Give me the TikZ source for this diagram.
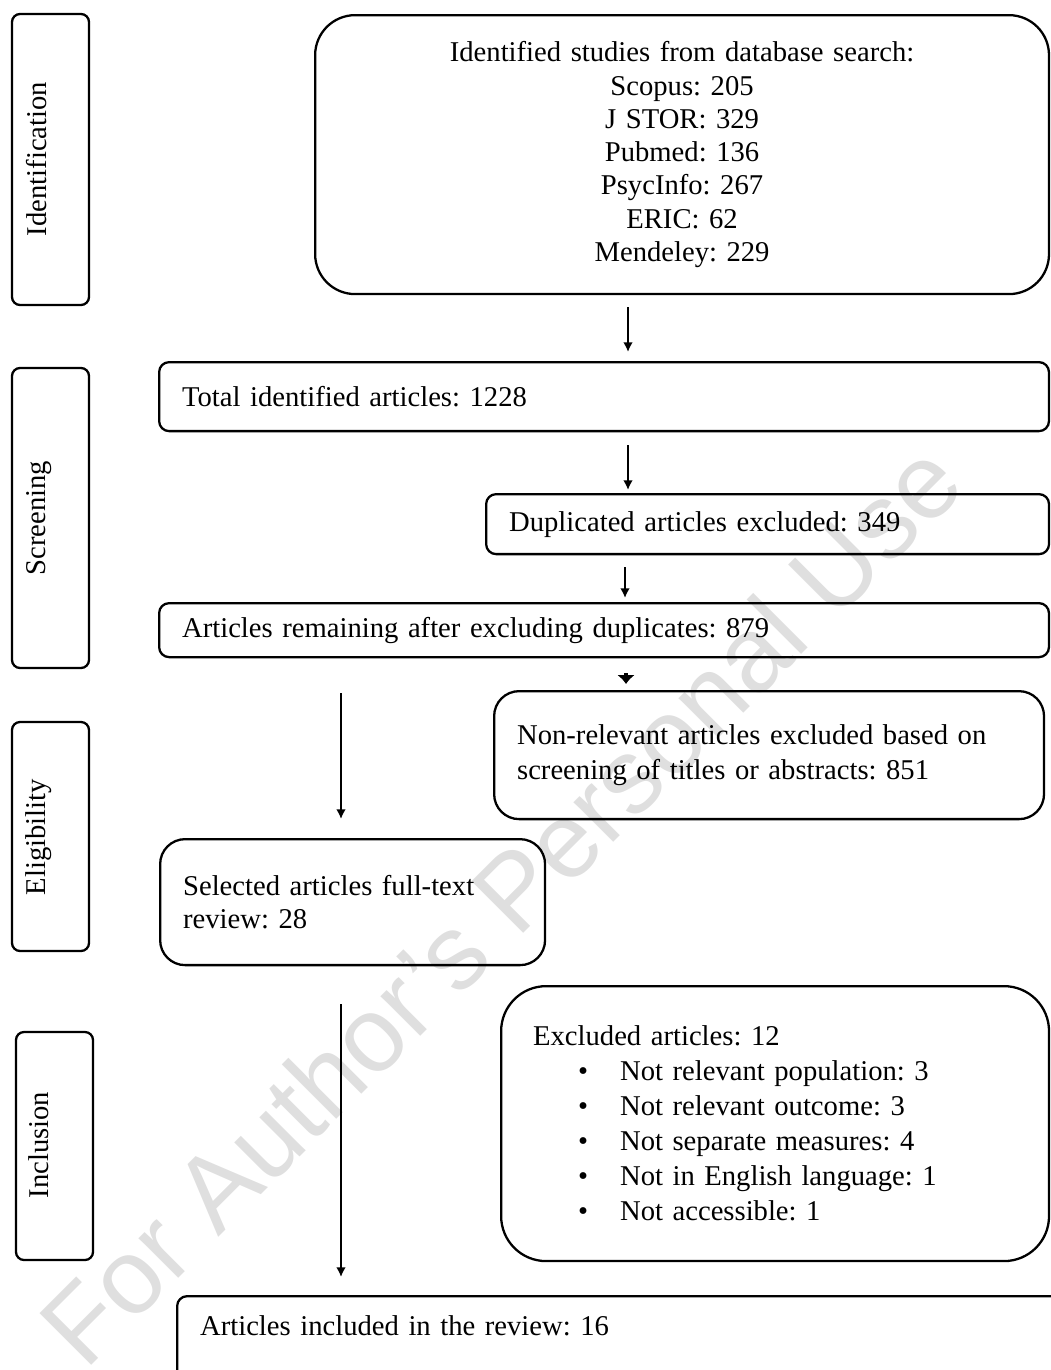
\documentclass[tikz,border=0pt]{standalone}
\usepackage{fontspec}
\setmainfont{Liberation Serif}
\setsansfont{Liberation Sans}
\frenchspacing
\usetikzlibrary{arrows.meta,fit}
\tikzstyle{box} = [draw, line width=1.3pt, rounded corners=0.2cm, anchor=north west,
    align=left, inner xsep=0.46cm, inner ysep=0pt, font=\fontsize{16.3}{18.9}\selectfont]
\tikzstyle{stage} = [draw, line width=1.3pt, rounded corners=0.16cm, inner sep=0pt]
\tikzstyle{stagetxt} = [rotate=90, anchor=base, inner sep=0pt, font=\fontsize{16.3}{18.9}\selectfont]
\tikzstyle{arr} = [line width=1.4pt, -{Latex[length=5.5pt,width=5.5pt]}]
\tikzstyle{watermark} = [rotate=45, text=gray!25, font=\fontsize{60.5}{60.5}\sffamily]
\newcommand{\bitem}[1]{\hspace*{0.9cm}\makebox[0.84cm][l]{\textbullet}#1}

\begin{document}
\begin{tikzpicture}[x=0.02cm, y=-0.02cm]
    \useasboundingbox (0,0) rectangle (1051,1370);
    \node[watermark] (wmark) at (500,903) {For Author's Personal Use};% watermark
    % stage labels
    \node[stage, fit={(12,14) (89,305)}] (identbox) {};
    \node[stagetxt] (identtxt) at (47,159) {Identification};
    \node[stage, fit={(12,368) (89,668)}] (screenbox) {};
    \node[stagetxt] (screentxt) at (45,518) {Screening};
    \node[stage, fit={(12,722) (89,951)}] (eligbox) {};
    \node[stagetxt] (eligtxt) at (45,837) {Eligibility};
    \node[stage, fit={(16,1032) (93,1260)}] (inclbox) {};
    \node[stagetxt] (incltxt) at (49,1145) {Inclusion};
    % flow boxes
    \node[box, rounded corners=0.8cm, align=center, text width=13.76cm,
        minimum height=5.58cm] (search) at (314,14)
        {Identified studies from database search:\\ Scopus: 205\\ J STOR: 329\\
         Pubmed: 136\\ PsycInfo: 267\\ ERIC: 62\\ Mendeley: 229};
    \node[box, text width=16.88cm, minimum height=1.38cm] (total) at (158,361)
        {Total identified articles: 1228};
    \node[box, text width=10.34cm, minimum height=1.2cm] (dupl) at (485,493)
        {Duplicated articles excluded: 349};
    \node[box, text width=16.88cm, minimum height=1.08cm] (remain) at (158,602)
        {Articles remaining after excluding duplicates: 879};
    \node[box, rounded corners=0.5cm, text width=10.08cm, minimum height=2.56cm,
        font=\fontsize{16.3}{19.4}\selectfont] (nonrel) at (493,690)
        {Non-relevant articles excluded based on\\ screening of titles or abstracts: 851};
    \node[box, rounded corners=0.5cm, text width=6.78cm, minimum height=2.52cm] (fulltext) at (159,838)
        {Selected articles full-text\\ review: 28};
    \node[box, rounded corners=0.9cm, inner xsep=0.64cm, text width=9.68cm, minimum height=5.5cm,
        font=\fontsize{16.3}{19.9}\selectfont] (excluded) at (500,985)
        {Excluded articles: 12\\ \bitem{Not relevant population: 3}\\ \bitem{Not relevant outcome: 3}\\
         \bitem{Not separate measures: 4}\\ \bitem{Not in English language: 1}\\ \bitem{Not accessible: 1}};
    \node[box, text width=16.88cm, text height=0.78cm, text depth=1.62cm] (included) at (176,1295)
        {Articles included in the review: 16};
    % connectors
    \coordinate (colA) at (628,0);
    \coordinate (colB) at (625,0);
    \coordinate (colC) at (626,0);
    \coordinate (colD) at (341,0);
    \draw[arr, shorten <=0.24cm, shorten >=0.18cm] (search.south -| colA) -- (total.north -| colA);
    \draw[arr, shorten <=0.26cm, shorten >=0.06cm] (total.south -| colA) -- (dupl.north -| colA);
    \draw[arr, shorten <=0.24cm, shorten >=0.08cm] (dupl.south -| colB) -- (remain.north -| colB);
    \draw[line width=2.6pt, -{Latex[length=5pt,width=10pt]}, shorten <=0.3cm, shorten >=0.12cm]
        (remain.south -| colC) -- (nonrel.north -| colC);
    \draw[arr, shorten <=0.7cm, shorten >=0.38cm] (remain.south -| colD) -- (fulltext.north -| colD);
    \draw[arr, shorten <=0.76cm, shorten >=0.36cm] (fulltext.south -| colD) -- (included.north -| colD);
\end{tikzpicture}
\end{document}
